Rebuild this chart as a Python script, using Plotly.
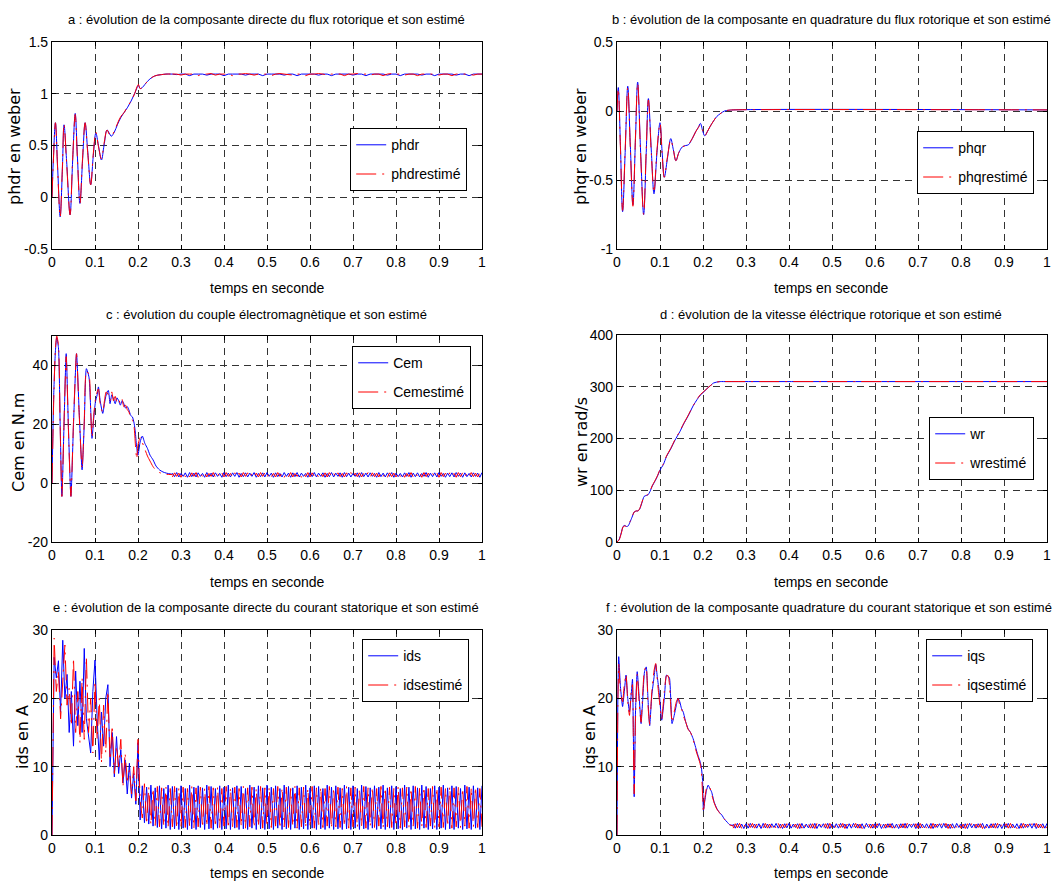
import plotly.graph_objects as go

# ---------------- DATA ----------------
# a : phdr
t_phdr = [0, 0.003, 0.008, 0.013, 0.019, 0.024, 0.028, 0.034, 0.042, 0.048,
          0.054, 0.059, 0.065, 0.071, 0.077, 0.083, 0.090, 0.096, 0.102, 0.108,
          0.115, 0.121, 0.128, 0.133, 0.138, 0.145, 0.152, 0.160, 0.168, 0.176,
          0.184, 0.192, 0.198, 0.201, 0.205, 0.210, 0.216, 0.222, 0.230, 0.238,
          0.246, 0.255, 0.265, 0.280]
phdr = [0, 0.35, 0.72, 0.30, -0.19, 0.25, 0.70, 0.35, -0.17, 0.35,
        0.81, 0.40, -0.06, 0.35, 0.72, 0.45, 0.12, 0.40, 0.62, 0.50,
        0.36, 0.50, 0.65, 0.62, 0.59, 0.63, 0.70, 0.77, 0.82, 0.87,
        0.93, 1.00, 1.06, 1.08, 1.05, 1.06, 1.09, 1.12, 1.15, 1.17,
        1.18, 1.185, 1.19, 1.19]
phdr_est = [0, 0.33, 0.72, 0.28, -0.19, 0.27, 0.71, 0.33, -0.17, 0.37,
            0.80, 0.38, -0.06, 0.37, 0.72, 0.43, 0.12, 0.42, 0.63, 0.49,
            0.37, 0.52, 0.65, 0.61, 0.59, 0.64, 0.71, 0.78, 0.82, 0.88,
            0.93, 1.00, 1.07, 1.09, 1.05, 1.06, 1.09, 1.12, 1.15, 1.17,
            1.18, 1.185, 1.19, 1.19]
phdr_ss_t0, phdr_ss_dt = 0.28, 0.01
phdr_ss = [1.19, 1.185, 1.19, 1.19, 1.175, 1.19, 1.19, 1.19, 1.18, 1.19,
           1.19, 1.19, 1.175, 1.19, 1.19, 1.19, 1.19, 1.18, 1.19, 1.19,
           1.19, 1.175, 1.19, 1.19, 1.19, 1.19, 1.18, 1.19, 1.19, 1.175,
           1.19, 1.19, 1.19, 1.19, 1.18, 1.19, 1.19, 1.175, 1.19, 1.19,
           1.19, 1.19, 1.18, 1.19, 1.19, 1.175, 1.19, 1.19, 1.19, 1.19,
           1.18, 1.19, 1.19, 1.175, 1.19, 1.19, 1.19, 1.19, 1.18, 1.19,
           1.19, 1.175, 1.19, 1.19, 1.19, 1.19, 1.18, 1.19, 1.19, 1.175,
           1.19, 1.19, 1.19]
phdr_est_ss = [1.19, 1.19, 1.18, 1.19, 1.19, 1.19, 1.175, 1.19, 1.19, 1.195,
               1.18, 1.19, 1.19, 1.19, 1.175, 1.19, 1.19, 1.195, 1.19, 1.18,
               1.19, 1.19, 1.19, 1.175, 1.19, 1.195, 1.19, 1.19, 1.18, 1.19,
               1.19, 1.175, 1.19, 1.19, 1.195, 1.19, 1.18, 1.19, 1.19, 1.19,
               1.175, 1.19, 1.19, 1.195, 1.19, 1.19, 1.18, 1.19, 1.19, 1.175,
               1.19, 1.195, 1.19, 1.19, 1.18, 1.19, 1.19, 1.175, 1.19, 1.19,
               1.195, 1.19, 1.18, 1.19, 1.19, 1.175, 1.19, 1.19, 1.195, 1.19,
               1.18, 1.19, 1.19]

# b : phqr
t_phqr = [0, 0.003, 0.008, 0.013, 0.019, 0.025, 0.031, 0.037, 0.043, 0.048,
          0.055, 0.062, 0.068, 0.073, 0.080, 0.086, 0.093, 0.100, 0.105, 0.110,
          0.117, 0.125, 0.131, 0.137, 0.144, 0.152, 0.160, 0.166, 0.175, 0.183,
          0.189, 0.194, 0.199, 0.204, 0.210, 0.217, 0.225, 0.232, 0.240, 0.250,
          0.260, 0.270, 1.0]
phqr = [0, 0.17, -0.25, -0.73, -0.30, 0.18, -0.25, -0.68, -0.20, 0.21,
        -0.30, -0.75, -0.30, 0.09, -0.30, -0.60, -0.30, -0.085, -0.30, -0.48,
        -0.35, -0.20, -0.28, -0.36, -0.30, -0.26, -0.25, -0.245, -0.20, -0.15,
        -0.12, -0.09, -0.14, -0.18, -0.15, -0.11, -0.07, -0.04, -0.02, 0.0,
        0.005, 0.008, 0.008]
phqr_est = [0, 0.16, -0.27, -0.72, -0.28, 0.17, -0.27, -0.69, -0.18, 0.20,
            -0.32, -0.75, -0.28, 0.08, -0.32, -0.59, -0.28, -0.09, -0.32, -0.48,
            -0.34, -0.21, -0.28, -0.36, -0.30, -0.26, -0.25, -0.24, -0.20, -0.15,
            -0.12, -0.10, -0.14, -0.18, -0.15, -0.11, -0.07, -0.04, -0.02, 0.0,
            0.006, 0.008, 0.008]

# c : Cem
t_cem = [0, 0.004, 0.008, 0.011, 0.015, 0.019, 0.023, 0.028, 0.033, 0.038,
         0.044, 0.050, 0.057, 0.063, 0.070, 0.075, 0.080, 0.086, 0.090, 0.093,
         0.097, 0.101, 0.105, 0.108, 0.112, 0.118, 0.122, 0.126, 0.131, 0.135,
         0.139, 0.143, 0.147, 0.151, 0.155, 0.159, 0.163, 0.167, 0.171, 0.175,
         0.179, 0.183, 0.187, 0.191, 0.194, 0.197, 0.200, 0.205, 0.210, 0.216,
         0.222, 0.228, 0.235, 0.242, 0.250, 0.258, 0.266, 0.280]
cem = [0, 30, 45, 49.5, 46, 20, -4.5, 20, 44, 20,
       -4.5, 20, 44, 25, 4.5, 20, 38.9, 36, 25, 15.2,
       22, 27.6, 30, 32.7, 28, 23.7, 27, 30, 31.5, 27,
       30, 28.7, 27, 29, 28, 26.5, 28, 27, 25.5, 26,
       24.8, 23, 22.5, 20.3, 17, 12, 9.5, 14, 16, 13.5,
       11.8, 9.5, 7.9, 5.8, 4.5, 3.8, 3.4, 3.0]
cem_est = [0, 28, 46, 50, 47, 19, -4.5, 21, 43, 19,
           -4.5, 21, 44, 24, 5, 21, 38, 37, 24, 15.5,
           23, 28.5, 31, 32, 27, 24, 28, 31, 30, 28,
           31, 28, 29.5, 27.5, 28.5, 27, 28.5, 26, 26.5, 25,
           24.2, 22, 21.5, 19, 13, 8.2, 13, 15.5, 13.8, 11.5,
           9.2, 7.5, 5.6, 4.3, 3.6, 3.2, 3.0, 2.9]
cem_ss_t0, cem_ss_dt = 0.28, 0.005
cem_ss = [3.4, 2.2, 3.6, 2.1, 3.3, 2.3, 3.5, 2.0, 3.6, 2.2, 3.4, 2.1, 3.5, 2.3, 3.3, 2.0, 3.6, 2.2, 3.4, 2.1,
          3.5, 2.3, 3.3, 2.0, 3.6, 2.2, 3.4, 2.1, 3.5, 2.3, 3.6, 2.0, 3.3, 2.2, 3.5, 2.1, 3.4, 2.3, 3.6, 2.0,
          3.3, 2.2, 3.5, 2.1, 3.6, 2.3, 3.4, 2.0, 3.5, 2.2, 3.3, 2.1, 3.6, 2.3, 3.4, 2.0, 3.5, 2.2, 3.6, 2.1,
          3.4, 2.3, 3.3, 2.0, 3.5, 2.2, 3.6, 2.1, 3.4, 2.3, 3.5, 2.0, 3.3, 2.2, 3.6, 2.1, 3.4, 2.3, 3.5, 2.0,
          3.6, 2.2, 3.4, 2.1, 3.3, 2.3, 3.5, 2.0, 3.6, 2.2, 3.4, 2.1, 3.5, 2.3, 3.3, 2.0, 3.6, 2.2, 3.4, 2.1,
          3.5, 2.3, 3.6, 2.0, 3.4, 2.2, 3.3, 2.1, 3.5, 2.3, 3.6, 2.0, 3.4, 2.2, 3.5, 2.1, 3.3, 2.3, 3.6, 2.0,
          3.4, 2.2, 3.5, 2.1, 3.6, 2.3, 3.3, 2.0, 3.4, 2.2, 3.5, 2.1, 3.6, 2.3, 3.4, 2.0, 3.5, 2.2, 3.3, 2.1,
          3.5, 2.3, 3.4, 2.0, 3.6]
cem_est_ss = [2.1, 3.5, 2.3, 3.4, 2.0, 3.6, 2.2, 3.3, 2.1, 3.5, 2.3, 3.6, 2.0, 3.4, 2.2, 3.5, 2.1, 3.3, 2.3, 3.6,
              2.0, 3.4, 2.2, 3.5, 2.1, 3.6, 2.3, 3.3, 2.0, 3.5, 2.2, 3.4, 2.1, 3.6, 2.3, 3.5, 2.0, 3.3, 2.2, 3.4,
              2.1, 3.6, 2.3, 3.5, 2.0, 3.4, 2.2, 3.3, 2.1, 3.6, 2.3, 3.5, 2.0, 3.4, 2.2, 3.6, 2.1, 3.3, 2.3, 3.5,
              2.0, 3.4, 2.2, 3.6, 2.1, 3.5, 2.3, 3.3, 2.0, 3.4, 2.2, 3.5, 2.1, 3.6, 2.3, 3.4, 2.0, 3.5, 2.2, 3.3,
              2.1, 3.5, 2.3, 3.6, 2.0, 3.4, 2.2, 3.5, 2.1, 3.3, 2.3, 3.6, 2.0, 3.5, 2.2, 3.4, 2.1, 3.6, 2.3, 3.3,
              2.0, 3.5, 2.2, 3.4, 2.1, 3.6, 2.3, 3.5, 2.0, 3.3, 2.2, 3.6, 2.1, 3.4, 2.3, 3.5, 2.0, 3.6, 2.2, 3.4,
              2.1, 3.3, 2.3, 3.5, 2.0, 3.6, 2.2, 3.4, 2.1, 3.5, 2.3, 3.3, 2.0, 3.6, 2.2, 3.5, 2.1, 3.4, 2.3, 3.6,
              2.2, 3.4, 2.1, 3.5, 2.3]

# d : wr
t_wr = [0, 0.005, 0.010, 0.014, 0.018, 0.022, 0.026, 0.030, 0.035, 0.040,
        0.045, 0.049, 0.053, 0.058, 0.063, 0.068, 0.072, 0.077, 0.082, 0.088,
        0.094, 0.100, 0.108, 0.115, 0.125, 0.135, 0.146, 0.155, 0.165, 0.177,
        0.186, 0.194, 0.202, 0.210, 0.217, 0.224, 0.232, 0.240, 0.248, 1.0]
wr = [0, 5, 18, 30, 32, 30, 31, 38, 48, 58,
      60, 60, 64, 76, 88, 90, 91, 98, 108, 117,
      127, 139, 150, 165, 180, 197, 213, 228, 243, 263,
      275, 284, 290, 297, 302, 307, 309, 310, 310, 310]
wr_est = [0, 4, 17, 29, 31, 30, 31, 39, 49, 58,
          60, 60, 65, 77, 88, 90, 92, 99, 109, 118,
          128, 140, 151, 166, 181, 198, 214, 229, 244, 263,
          276, 285, 291, 297, 302, 306, 309, 310, 310, 310]

# e : ids  (uniform samples from t = 0, step 0.005 s)
ids_t0, ids_dt = 0.0, 0.005
ids = [0, 26, 23, 25.5, 18, 28.5, 20, 23.5, 15, 21, 13, 24, 16, 22.5, 15, 27.3, 17, 14.5, 12, 21,
       25.6, 17, 11, 18, 13, 20, 22, 10, 15, 8.5, 14.4, 9, 12.5, 7.6, 11, 6, 10.5, 5.4, 9, 4.5,
       13.5, 2.2, 7.2, 1.8, 7.0, 1.6, 7.3, 1.3, 6.9, 1.1, 7.2, 0.9, 6.8, 1.0, 7.3, 0.8, 7.1, 0.9, 6.9, 0.8,
       7.2, 1.0, 6.8, 0.8, 7.3, 0.9, 7.0, 0.8, 7.2, 1.1, 6.9, 0.8, 7.3, 0.9, 7.1, 0.8, 6.8, 1.0, 7.2, 0.8,
       7.0, 0.9, 7.3, 0.8, 6.9, 1.0, 7.2, 0.8, 7.1, 0.9, 6.8, 0.8, 7.3, 1.0, 7.0, 0.8, 7.2, 0.9, 6.9, 0.8,
       7.3, 0.9, 7.0, 0.8, 7.2, 1.0, 6.8, 0.8, 7.3, 0.9, 7.1, 0.8, 6.9, 1.0, 7.2, 0.8, 7.0, 0.9, 7.3, 0.8,
       6.9, 1.0, 7.2, 0.8, 7.1, 0.9, 6.8, 0.8, 7.3, 1.0, 7.0, 0.8, 7.2, 0.9, 6.9, 0.8, 7.3, 0.9, 7.0, 0.8,
       7.2, 1.0, 6.8, 0.8, 7.3, 0.9, 7.1, 0.8, 6.9, 1.0, 7.2, 0.8, 7.0, 0.9, 7.3, 0.8, 6.9, 1.0, 7.2, 0.8,
       7.1, 0.9, 6.8, 0.8, 7.3, 1.0, 7.0, 0.8, 7.2, 0.9, 6.9, 0.8, 7.3, 1.0, 7.1, 0.8, 6.8, 0.9, 7.2, 0.8,
       7.0, 1.0, 7.3, 0.8, 6.9, 0.9, 7.2, 0.8, 7.1, 1.0, 6.8, 0.8, 7.3, 0.9, 7.0, 0.8, 7.2, 1.0, 6.9, 0.8,
       7.2]
ids_est = [0, 28.8, 21, 24, 17, 22, 27.8, 19, 21.5, 16, 25.9, 15, 21, 13.5, 23, 14, 26, 15, 20, 12,
           22.5, 14, 20, 10.5, 19, 12, 21, 11, 16, 9, 13, 10, 14, 7, 12, 8, 9.5, 6, 10, 5,
           14, 5, 2.5, 7.5, 1.6, 7.0, 1.5, 6.8, 1.4, 7.1, 1.2, 6.9, 1.3, 7.0, 1.1, 6.8, 1.2, 7.1, 1.0, 6.9,
           1.2, 7.0, 1.1, 6.8, 1.3, 7.1, 1.0, 6.9, 1.2, 7.0, 1.1, 6.8, 1.3, 7.1, 1.0, 6.9, 1.2, 7.0, 1.1, 6.8,
           1.3, 7.1, 1.0, 6.9, 1.2, 7.0, 1.1, 6.8, 1.3, 7.1, 1.0, 6.9, 1.2, 7.0, 1.1, 6.8, 1.3, 7.1, 1.0, 6.9,
           1.2, 7.0, 1.1, 6.8, 1.3, 7.1, 1.0, 6.9, 1.2, 7.0, 1.1, 6.8, 1.3, 7.1, 1.0, 6.9, 1.2, 7.0, 1.1, 6.8,
           1.3, 7.1, 1.0, 6.9, 1.2, 7.0, 1.1, 6.8, 1.3, 7.1, 1.0, 6.9, 1.2, 7.0, 1.1, 6.8, 1.3, 7.1, 1.0, 6.9,
           1.2, 7.0, 1.1, 6.8, 1.3, 7.1, 1.0, 6.9, 1.2, 7.0, 1.1, 6.8, 1.3, 7.1, 1.0, 6.9, 1.2, 7.0, 1.1, 6.8,
           1.3, 7.1, 1.0, 6.9, 1.2, 7.0, 1.1, 6.8, 1.3, 7.1, 1.0, 6.9, 1.2, 7.0, 1.1, 6.8, 1.3, 7.1, 1.0, 6.9,
           1.2, 7.0, 1.1, 6.8, 1.3, 7.1, 1.0, 6.9, 1.2, 7.0, 1.1, 6.8, 1.3, 7.1, 1.0, 6.9, 1.2, 7.0, 1.1, 6.8,
           1.2]

# f : iqs
t_iqs = [0, 0.002, 0.004, 0.008, 0.013, 0.017, 0.021, 0.025, 0.029, 0.033,
         0.036, 0.038, 0.040, 0.043, 0.047, 0.052, 0.056, 0.060, 0.064, 0.068,
         0.072, 0.076, 0.081, 0.086, 0.090, 0.094, 0.098, 0.104, 0.110, 0.115,
         0.119, 0.122, 0.128, 0.133, 0.138, 0.142, 0.146, 0.150, 0.154, 0.160,
         0.165, 0.171, 0.177, 0.183, 0.188, 0.193, 0.196, 0.199, 0.201, 0.204,
         0.208, 0.212, 0.216, 0.220, 0.226, 0.232, 0.238, 0.244, 0.250, 0.256,
         0.262, 0.270]
iqs = [0, 20, 26.1, 21.7, 18.8, 21, 23.4, 20, 18, 20.5,
       22.8, 15, 5.6, 18, 23.9, 19.8, 16.3, 20, 23.9, 24.6,
       20, 16, 20.5, 23, 25, 23, 21, 16.8, 20, 23.4,
       23.2, 23, 16.3, 17.5, 19, 20, 19.5, 18.5, 18, 16.5,
       15.6, 15, 14.1, 12.8, 11.7, 10.8, 10, 8, 3.6, 4.9,
       6.5, 7.3, 6.8, 6.3, 4.8, 3.9, 3.3, 2.9, 2.3, 1.9,
       1.5, 1.4]
iqs_est = [0, 19, 25.0, 21, 19.5, 22, 23.5, 19.5, 17.5, 21,
           22, 14, 6, 17, 23.5, 19, 16.5, 21, 24.2, 24.6,
           19, 16.2, 21, 24, 25.1, 22.5, 20, 17, 21, 23.3,
           23.3, 22, 16.5, 18, 19.5, 20, 19, 18.5, 17.5, 16.5,
           15.5, 15, 14, 12.5, 11.5, 10.5, 9.5, 6, 3.3, 5.2,
           6.8, 7.1, 6.9, 6.0, 4.7, 3.8, 3.3, 2.8, 2.3, 1.9,
           1.5, 1.3]
iqs_ss_t0, iqs_ss_dt = 0.27, 0.005
iqs_ss = [1.6, 1.0, 1.7, 1.05, 1.6, 0.95, 1.65, 1.0, 1.7, 1.1, 1.6, 1.0, 1.65, 0.95, 1.7, 1.05, 1.6, 1.0, 1.65, 1.1,
          1.7, 1.0, 1.6, 0.95, 1.65, 1.05, 1.7, 1.0, 1.6, 1.1, 1.65, 0.95, 1.7, 1.0, 1.6, 1.05, 1.65, 1.0, 1.7, 0.95,
          1.6, 1.1, 1.65, 1.0, 1.7, 0.95, 1.6, 1.05, 1.65, 1.0, 1.7, 1.1, 1.6, 0.95, 1.65, 1.0, 1.7, 1.05, 1.6, 1.0,
          1.65, 0.95, 1.7, 1.1, 1.6, 1.0, 1.65, 1.05, 1.7, 0.95, 1.6, 1.0, 1.65, 1.1, 1.7, 1.0, 1.6, 0.95, 1.65, 1.05,
          1.7, 1.0, 1.6, 1.1, 1.65, 0.95, 1.7, 1.0, 1.6, 1.05, 1.65, 1.0, 1.7, 0.95, 1.6, 1.1, 1.65, 1.0, 1.7, 1.05,
          1.6, 0.95, 1.65, 1.0, 1.7, 1.1, 1.6, 1.0, 1.65, 0.95, 1.7, 1.05, 1.6, 1.0, 1.65, 1.1, 1.7, 0.95, 1.6, 1.0,
          1.65, 1.05, 1.7, 1.0, 1.6, 0.95, 1.65, 1.1, 1.7, 1.0, 1.6, 1.05, 1.65, 0.95, 1.7, 1.0, 1.6, 1.1, 1.65, 1.0,
          1.7, 0.95, 1.6, 1.05, 1.65, 1.0, 1.7]
iqs_est_ss = [1.0, 1.65, 1.05, 1.7, 0.95, 1.6, 1.0, 1.65, 1.1, 1.7, 1.0, 1.6, 0.95, 1.65, 1.05, 1.7, 1.0, 1.6, 1.1, 1.65,
              0.95, 1.7, 1.0, 1.6, 1.05, 1.65, 1.0, 1.7, 1.1, 1.6, 0.95, 1.65, 1.0, 1.7, 1.05, 1.6, 1.0, 1.65, 0.95, 1.7,
              1.1, 1.6, 1.0, 1.65, 0.95, 1.7, 1.05, 1.6, 1.0, 1.65, 1.1, 1.7, 0.95, 1.6, 1.0, 1.65, 1.05, 1.7, 1.0, 1.6,
              0.95, 1.65, 1.1, 1.7, 1.0, 1.6, 1.05, 1.65, 0.95, 1.7, 1.0, 1.6, 1.1, 1.65, 1.0, 1.7, 0.95, 1.6, 1.05, 1.65,
              1.0, 1.7, 1.1, 1.6, 0.95, 1.65, 1.0, 1.7, 1.05, 1.6, 1.0, 1.65, 0.95, 1.7, 1.1, 1.6, 1.0, 1.65, 1.05, 1.7,
              0.95, 1.6, 1.0, 1.65, 1.1, 1.7, 1.0, 1.6, 0.95, 1.65, 1.05, 1.7, 1.0, 1.6, 1.1, 1.65, 0.95, 1.7, 1.0, 1.6,
              1.05, 1.65, 1.0, 1.7, 0.95, 1.6, 1.1, 1.65, 1.0, 1.7, 1.05, 1.6, 0.95, 1.65, 1.0, 1.7, 1.1, 1.6, 1.0, 1.65,
              0.95, 1.7, 1.05, 1.6, 1.0, 1.65, 1.0]

# ticks / labels
x_ticks = [0, 0.1, 0.2, 0.3, 0.4, 0.5, 0.6, 0.7, 0.8, 0.9, 1]
x_ticklabels = ["0", "0.1", "0.2", "0.3", "0.4", "0.5", "0.6", "0.7", "0.8", "0.9", "1"]
y_ticks = {
    1: ([-0.5, 0, 0.5, 1, 1.5], ["-0.5", "0", "0.5", "1", "1.5"]),
    2: ([-1, -0.5, 0, 0.5], ["-1", "-0.5", "0", "0.5"]),
    3: ([-20, 0, 20, 40], ["-20", "0", "20", "40"]),
    4: ([0, 100, 200, 300, 400], ["0", "100", "200", "300", "400"]),
    5: ([0, 10, 20, 30], ["0", "10", "20", "30"]),
    6: ([0, 10, 20, 30], ["0", "10", "20", "30"]),
}
y_ranges = {1: [-0.5, 1.5], 2: [-1, 0.5], 3: [-20, 50], 4: [0, 400], 5: [0, 30], 6: [0, 30]}
titles = [
    "a : évolution de la composante directe du flux rotorique et son estimé",
    "b : évolution de la composante en quadrature du flux rotorique et son estimé",
    "c : évolution du couple électromagnètique et son estimé",
    "d : évolution de la vitesse éléctrique rotorique et son estimé",
    "e : évolution de la composante directe du courant statorique et son estimé",
    "f : évolution de la composante quadrature du courant statorique et son estimé",
]
ylabels = ["phdr en weber", "phqr en weber", "Cem en N.m", "wr en rad/s", "ids en A", "iqs en A"]
legend_names = [("phdr", "phdrestimé"), ("phqr", "phqrestimé"), ("Cem", "Cemestimé"),
                ("wr", "wrestimé"), ("ids", "idsestimé"), ("iqs", "iqsestimé")]
xlabel = "temps en seconde"

# ---------------- LAYOUT / STYLE ----------------
W, H = 1057, 882
FN = "Liberation Sans, Arial, Helvetica, sans-serif"
FW = "DejaVu Sans, Verdana, sans-serif"
BLUE, RED = "#0000ff", "#ff0000"
RED_DASH = "20px,6px,2px,6px"

# plot boxes in pixels: (left, right, top, bottom)
boxes = {1: (52, 482, 42, 249), 2: (617, 1047, 42, 249),
         3: (52, 482, 336, 542), 4: (617, 1047, 335, 542),
         5: (52, 482, 630, 835), 6: (617, 1047, 630, 835)}
title_pos = {1: (266, 20), 2: (831, 20), 3: (266, 314), 4: (831, 314), 5: (266, 607), 6: (829, 607)}
xlabel_pos = {1: (267, 288), 2: (831, 288), 3: (267, 582), 4: (831, 582), 5: (267, 873), 6: (831, 873)}
ylabel_pos = {1: (15, 147), 2: (581, 147), 3: (18, 443), 4: (582, 442), 5: (22, 737), 6: (589, 737)}
legend_pos = {1: (350, 128), 2: (917, 131), 3: (352, 346), 4: (929, 417), 5: (362, 639), 6: (926, 639)}


def px(x):
    return x / W


def py(y):
    return 1 - y / H


fig = go.Figure()


def refs(i):
    if i == 1:
        return "x", "y", "legend"
    return f"x{i}", f"y{i}", f"legend{i}"


def add_series(i, name, color, dash, t=None, v=None, ss=None, t0=None, dt=None,
               shape="linear", smoothing=1.0, group="b"):
    xa, ya, lg = refs(i)
    first = True
    if t is not None:
        fig.add_trace(go.Scatter(x=t, y=v, mode="lines", name=name, xaxis=xa, yaxis=ya,
                                 legend=lg, legendgroup=f"{group}{i}", showlegend=True,
                                 line=dict(color=color, width=1, dash=dash, shape=shape,
                                           smoothing=smoothing)))
        first = False
    if ss is not None:
        fig.add_trace(go.Scatter(y=ss, x0=t0, dx=dt, mode="lines", name=name, xaxis=xa, yaxis=ya,
                                 legend=lg, legendgroup=f"{group}{i}", showlegend=first,
                                 line=dict(color=color, width=1, dash=dash)))


# a
add_series(1, legend_names[0][0], BLUE, "solid", t_phdr, phdr, phdr_ss, phdr_ss_t0, phdr_ss_dt, "spline", 1.0, "b")
add_series(1, legend_names[0][1], RED, RED_DASH, t_phdr, phdr_est, phdr_est_ss, phdr_ss_t0, phdr_ss_dt, "spline", 1.0, "r")
# b
add_series(2, legend_names[1][0], BLUE, "solid", t_phqr, phqr, shape="spline", group="b")
add_series(2, legend_names[1][1], RED, RED_DASH, t_phqr, phqr_est, shape="spline", group="r")
# c
add_series(3, legend_names[2][0], BLUE, "solid", t_cem, cem, cem_ss, cem_ss_t0, cem_ss_dt, "spline", 0.6, "b")
add_series(3, legend_names[2][1], RED, RED_DASH, t_cem, cem_est, cem_est_ss, cem_ss_t0, cem_ss_dt, "spline", 0.6, "r")
# d
add_series(4, legend_names[3][0], BLUE, "solid", t_wr, wr, shape="spline", smoothing=0.6, group="b")
add_series(4, legend_names[3][1], RED, RED_DASH, t_wr, wr_est, shape="spline", smoothing=0.6, group="r")
# e
add_series(5, legend_names[4][0], BLUE, "solid", ss=ids, t0=ids_t0, dt=ids_dt, group="b")
add_series(5, legend_names[4][1], RED, RED_DASH, ss=ids_est, t0=ids_t0, dt=ids_dt, group="r")
# f
add_series(6, legend_names[5][0], BLUE, "solid", t_iqs, iqs, iqs_ss, iqs_ss_t0, iqs_ss_dt, "spline", 0.5, "b")
add_series(6, legend_names[5][1], RED, RED_DASH, t_iqs, iqs_est, iqs_est_ss, iqs_ss_t0, iqs_ss_dt, "spline", 0.5, "r")

axis_common = dict(showline=True, linecolor="black", linewidth=1.2, mirror="ticks",
                   ticks="inside", ticklen=4, tickcolor="black", tickwidth=1,
                   showgrid=True, gridcolor="#333333", gridwidth=1, griddash="7px,5px",
                   zeroline=False, automargin=False, fixedrange=True,
                   tickfont=dict(family=FN, size=14, color="black"))

layout = dict(width=W, height=H, margin=dict(l=0, r=0, t=0, b=0),
              paper_bgcolor="white", plot_bgcolor="white", showlegend=True,
              font=dict(family=FN, size=14, color="black"))
annotations = []
for i in range(1, 7):
    l, r, t, b = boxes[i]
    xk = "xaxis" if i == 1 else f"xaxis{i}"
    yk = "yaxis" if i == 1 else f"yaxis{i}"
    ya = "y" if i == 1 else f"y{i}"
    xa = "x" if i == 1 else f"x{i}"
    layout[xk] = dict(axis_common, domain=[px(l), px(r)], anchor=ya, range=[0, 1],
                      tickmode="array", tickvals=x_ticks, ticktext=x_ticklabels)
    tv, tt = y_ticks[i]
    layout[yk] = dict(axis_common, domain=[py(b), py(t)], anchor=xa, range=y_ranges[i],
                      tickmode="array", tickvals=tv, ticktext=tt)
    lk = "legend" if i == 1 else f"legend{i}"
    lx, ly = legend_pos[i]
    layout[lk] = dict(x=px(lx), y=py(ly), xanchor="left", yanchor="top",
                      bgcolor="white", bordercolor="black", borderwidth=1.2,
                      font=dict(family=FN, size=14, color="black"),
                      traceorder="grouped", tracegroupgap=8)
    tx, ty = title_pos[i]
    annotations.append(dict(text=titles[i - 1], x=px(tx), y=py(ty), xref="paper", yref="paper",
                            xanchor="center", yanchor="middle", showarrow=False,
                            font=dict(family=FN, size=13, color="black")))
    gx, gy = xlabel_pos[i]
    annotations.append(dict(text=xlabel, x=px(gx), y=py(gy), xref="paper", yref="paper",
                            xanchor="center", yanchor="middle", showarrow=False,
                            font=dict(family=FN, size=14, color="black")))
    hx, hy = ylabel_pos[i]
    annotations.append(dict(text=ylabels[i - 1], x=px(hx), y=py(hy), xref="paper", yref="paper",
                            xanchor="center", yanchor="middle", showarrow=False, textangle=-90,
                            font=dict(family=FW, size=16, color="black")))
layout["annotations"] = annotations
fig.update_layout(**layout)

fig.write_html("out.html")
